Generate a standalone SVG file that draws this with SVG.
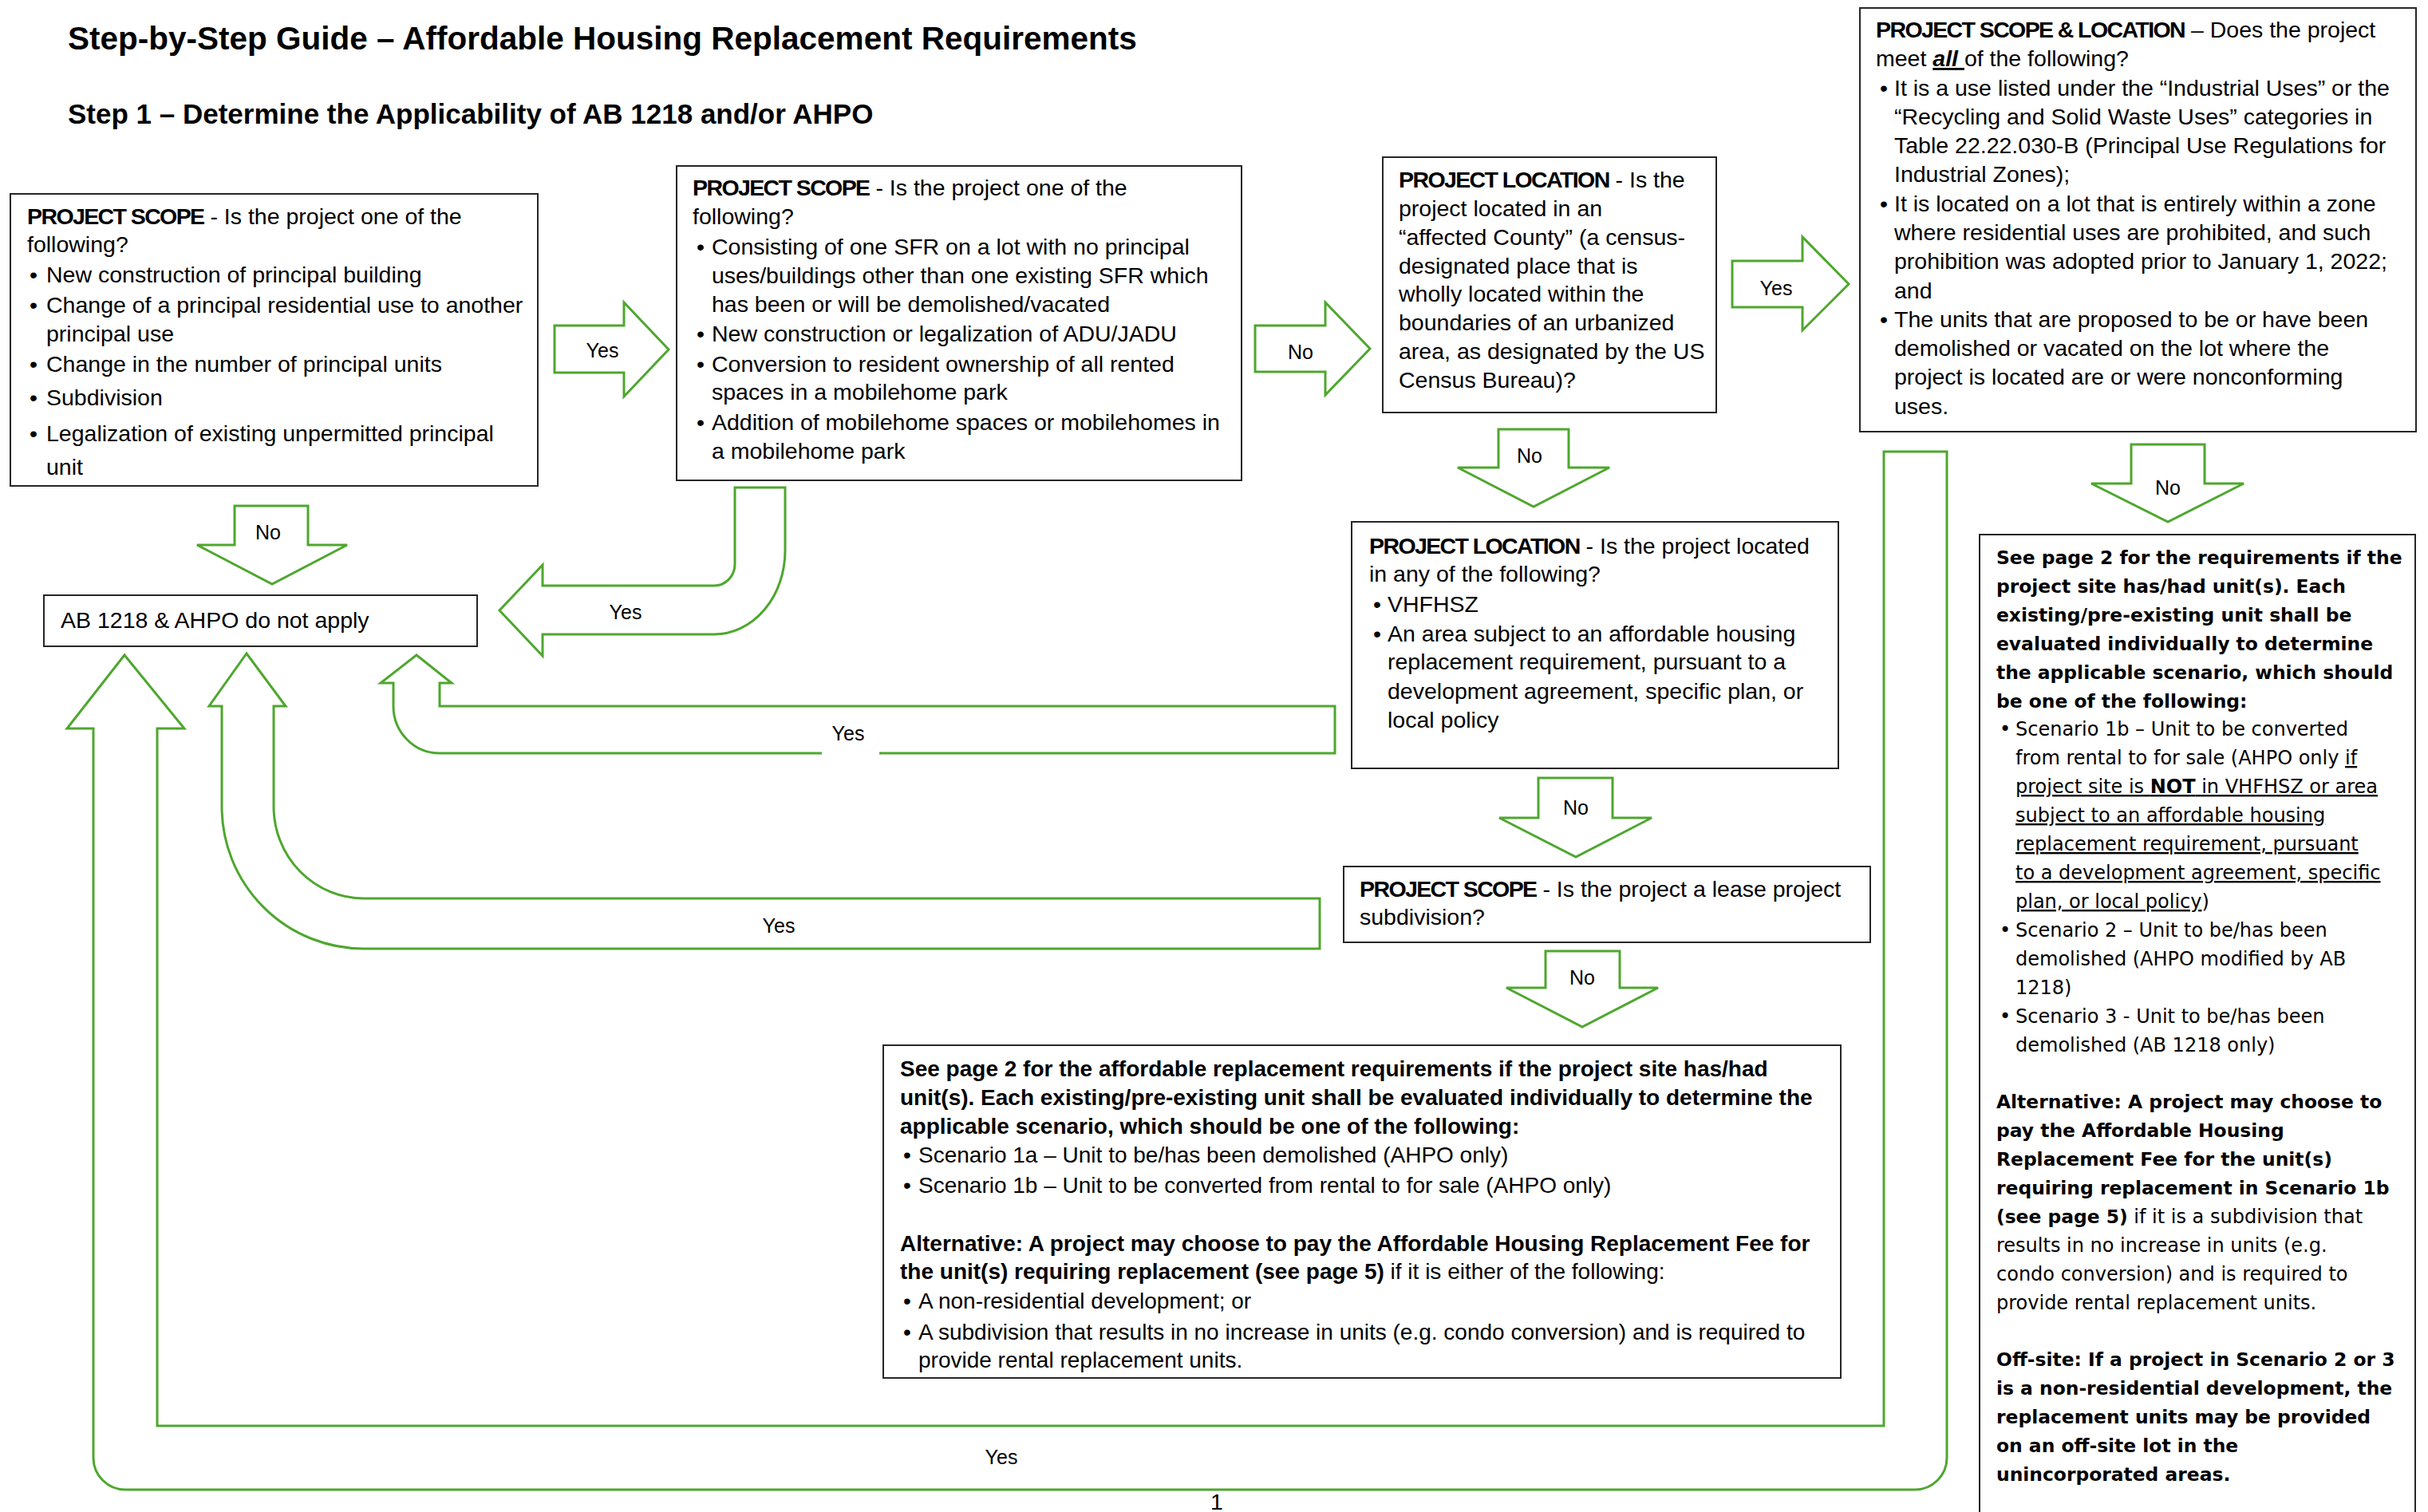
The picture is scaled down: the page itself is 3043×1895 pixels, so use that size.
<svg xmlns="http://www.w3.org/2000/svg" width="3043" height="1895" viewBox="0 0 3043 1895">
<style>
.box{fill:#fff;stroke:#262626;stroke-width:2}
.t{font-family:"Liberation Sans",Arial,sans-serif;font-size:28.5px;fill:#000}
.t7{font-family:"Liberation Sans",Arial,sans-serif;font-size:28px;fill:#000}
.b{font-weight:bold}
.cap{font-weight:bold;letter-spacing:-1.6px}
.w{font-family:"DejaVu Sans",Verdana,sans-serif;font-size:24px;fill:#000}
.wb{font-weight:bold;font-size:23.4px}
.u{text-decoration:underline}
.arrow{fill:#fff;stroke:#4EA72E;stroke-width:3;stroke-linejoin:miter}
.lbl{font-family:"Liberation Sans",Arial,sans-serif;font-size:25px;text-anchor:middle;fill:#000}
.h{font-family:"Liberation Sans",Arial,sans-serif;font-weight:bold;fill:#000}
</style>
<rect x="0" y="0" width="3043" height="1895" fill="#fff"/>
<g id="title">
<text class="h" x="85" y="62" font-size="40.5">Step-by-Step Guide – Affordable Housing Replacement Requirements</text>
<text class="h" x="85" y="155" font-size="35">Step 1 – Determine the Applicability of AB 1218 and/or AHPO</text>
</g>
<g id="connectors">
<polygon class="arrow" points="695,408 782,408 782,379 838,438 782,497 782,467 695,467"/>
<polygon class="arrow" points="1573,408 1661,408 1661,379 1717,437 1661,495 1661,466 1573,466"/>
<polygon class="arrow" points="2171,327 2259,327 2259,297 2317,356 2259,414 2259,385 2171,385"/>
<polygon class="arrow" points="294,634 386,634 386,683 435,683 341,732 247,683 294,683"/>
<polygon class="arrow" points="1878,538 1966,538 1966,586 2017,586 1922,635 1827,586 1878,586"/>
<polygon class="arrow" points="2671,557 2763,557 2763,606 2812,606 2717,654 2621,606 2671,606"/>
<polygon class="arrow" points="1928,975 2021,975 2021,1025 2070,1025 1975,1074 1879,1025 1928,1025"/>
<polygon class="arrow" points="1937,1192 2030,1192 2030,1238 2078,1238 1983,1287 1888,1238 1937,1238"/>
<path class="arrow" d="M921 611 L921 707 A26 27 0 0 1 895 734 L680 734 L680 708 L626 765 L680 822 L680 795 L895 795 A89 105 0 0 0 984 690 L984 611 Z"/>
<path class="arrow" d="M522 821 L566 856 L551 856 L551 885 L1673 885 L1673 944 L551 944 A58 59 0 0 1 493 885 L493 856 L477 856 Z"/>
<path class="arrow" d="M309 819 L358 885 L343 885 L343 1011 A113 115 0 0 0 456 1126 L1654 1126 L1654 1189 L456 1189 A178 178 0 0 1 278 1011 L278 885 L262 885 Z"/>
<path class="arrow" d="M156 821 L231 913 L197 913 L197 1787 L2361 1787 L2361 566 L2440 566 L2440 1827 A40 40 0 0 1 2400 1867 L157 1867 A40 40 0 0 1 117 1827 L117 913 L84 913 Z"/>
<rect x="1030" y="898" width="72" height="48" fill="#fff"/>
<text class="lbl" x="755" y="448">Yes</text>
<text class="lbl" x="1630" y="450">No</text>
<text class="lbl" x="2226" y="370">Yes</text>
<text class="lbl" x="336" y="676">No</text>
<text class="lbl" x="1917" y="580">No</text>
<text class="lbl" x="2717" y="620">No</text>
<text class="lbl" x="1975" y="1021">No</text>
<text class="lbl" x="1983" y="1234">No</text>
<text class="lbl" x="784" y="776">Yes</text>
<text class="lbl" x="1063" y="928">Yes</text>
<text class="lbl" x="976" y="1169">Yes</text>
<text class="lbl" x="1255" y="1835">Yes</text>
</g>
<g id="node-scope1">
<rect class="box" x="13" y="243" width="661" height="366"/>
<text class="t" x="34" y="281"><tspan class="cap">PROJECT SCOPE</tspan> - Is the project one of the</text>
<text class="t" x="34" y="316">following?</text>
<text class="t" x="37" y="354">•</text><text class="t" x="58" y="354">New construction of principal building</text>
<text class="t" x="37" y="392">•</text><text class="t" x="58" y="392">Change of a principal residential use to another</text>
<text class="t" x="58" y="428">principal use</text>
<text class="t" x="37" y="466">•</text><text class="t" x="58" y="466">Change in the number of principal units</text>
<text class="t" x="37" y="508">•</text><text class="t" x="58" y="508">Subdivision</text>
<text class="t" x="37" y="553">•</text><text class="t" x="58" y="553">Legalization of existing unpermitted principal</text>
<text class="t" x="58" y="595">unit</text>
</g>
<g id="node-scope2">
<rect class="box" x="848" y="208" width="708" height="394"/>
<text class="t" x="868" y="245"><tspan class="cap">PROJECT SCOPE</tspan> - Is the project one of the</text>
<text class="t" x="868" y="281">following?</text>
<text class="t" x="873" y="319">•</text><text class="t" x="892" y="319">Consisting of one SFR on a lot with no principal</text>
<text class="t" x="892" y="355">uses/buildings other than one existing SFR which</text>
<text class="t" x="892" y="391">has been or will be demolished/vacated</text>
<text class="t" x="873" y="428">•</text><text class="t" x="892" y="428">New construction or legalization of ADU/JADU</text>
<text class="t" x="873" y="466">•</text><text class="t" x="892" y="466">Conversion to resident ownership of all rented</text>
<text class="t" x="892" y="501">spaces in a mobilehome park</text>
<text class="t" x="873" y="539">•</text><text class="t" x="892" y="539">Addition of mobilehome spaces or mobilehomes in</text>
<text class="t" x="892" y="575">a mobilehome park</text>
</g>
<g id="node-location1">
<rect class="box" x="1733" y="197" width="418" height="320"/>
<text class="t" x="1753" y="235"><tspan class="cap">PROJECT LOCATION</tspan> - Is the</text>
<text class="t" x="1753" y="271">project located in an</text>
<text class="t" x="1753" y="307">“affected County” (a census-</text>
<text class="t" x="1753" y="343">designated place that is</text>
<text class="t" x="1753" y="378">wholly located within the</text>
<text class="t" x="1753" y="414">boundaries of an urbanized</text>
<text class="t" x="1753" y="450">area, as designated by the US</text>
<text class="t" x="1753" y="486">Census Bureau)?</text>
</g>
<g id="node-scope-location">
<rect class="box" x="2331" y="10" width="697" height="531"/>
<text class="t" x="2351" y="47"><tspan class="cap">PROJECT SCOPE &amp; LOCATION</tspan> – Does the project</text>
<text class="t" x="2351" y="83">meet <tspan class="b u" font-style="italic">all </tspan>of the following?</text>
<text class="t" x="2356" y="120">•</text><text class="t" x="2374" y="120">It is a use listed under the “Industrial Uses” or the</text>
<text class="t" x="2374" y="156">“Recycling and Solid Waste Uses” categories in</text>
<text class="t" x="2374" y="192">Table 22.22.030-B (Principal Use Regulations for</text>
<text class="t" x="2374" y="228">Industrial Zones);</text>
<text class="t" x="2356" y="265">•</text><text class="t" x="2374" y="265">It is located on a lot that is entirely within a zone</text>
<text class="t" x="2374" y="301">where residential uses are prohibited, and such</text>
<text class="t" x="2374" y="337">prohibition was adopted prior to January 1, 2022;</text>
<text class="t" x="2374" y="374">and</text>
<text class="t" x="2356" y="410">•</text><text class="t" x="2374" y="410">The units that are proposed to be or have been</text>
<text class="t" x="2374" y="446">demolished or vacated on the lot where the</text>
<text class="t" x="2374" y="482">project is located are or were nonconforming</text>
<text class="t" x="2374" y="519">uses.</text>
</g>
<g id="node-location2">
<rect class="box" x="1694" y="654" width="610" height="309"/>
<text class="t" x="1716" y="694"><tspan class="cap">PROJECT LOCATION</tspan> - Is the project located</text>
<text class="t" x="1716" y="729">in any of the following?</text>
<text class="t" x="1721" y="767">•</text><text class="t" x="1739" y="767">VHFHSZ</text>
<text class="t" x="1721" y="804">•</text><text class="t" x="1739" y="804">An area subject to an affordable housing</text>
<text class="t" x="1739" y="839">replacement requirement, pursuant to a</text>
<text class="t" x="1739" y="876">development agreement, specific plan, or</text>
<text class="t" x="1739" y="912">local policy</text>
</g>
<g id="node-lease">
<rect class="box" x="1684" y="1086" width="660" height="95"/>
<text class="t" x="1704" y="1124"><tspan class="cap">PROJECT SCOPE</tspan> - Is the project a lease project</text>
<text class="t" x="1704" y="1159">subdivision?</text>
</g>
<g id="node-scenario1">
<rect class="box" x="1107" y="1310" width="1200" height="417"/>
<text class="t7 b" x="1128" y="1349">See page 2 for the affordable replacement requirements if the project site has/had</text>
<text class="t7 b" x="1128" y="1385">unit(s). Each existing/pre-existing unit shall be evaluated individually to determine the</text>
<text class="t7 b" x="1128" y="1421">applicable scenario, which should be one of the following:</text>
<text class="t7" x="1132" y="1457">•</text><text class="t7" x="1151" y="1457">Scenario 1a – Unit to be/has been demolished (AHPO only)</text>
<text class="t7" x="1132" y="1495">•</text><text class="t7" x="1151" y="1495">Scenario 1b – Unit to be converted from rental to for sale (AHPO only)</text>
<text class="t7 b" x="1128" y="1568">Alternative: A project may choose to pay the Affordable Housing Replacement Fee for</text>
<text class="t7" x="1128" y="1603"><tspan class="b">the unit(s) requiring replacement (see page 5)</tspan> if it is either of the following:</text>
<text class="t7" x="1132" y="1640">•</text><text class="t7" x="1151" y="1640">A non-residential development; or</text>
<text class="t7" x="1132" y="1679">•</text><text class="t7" x="1151" y="1679">A subdivision that results in no increase in units (e.g. condo conversion) and is required to</text>
<text class="t7" x="1151" y="1714">provide rental replacement units.</text>
</g>
<g id="node-not-apply">
<rect class="box" x="55" y="746" width="543" height="64"/>
<text class="t" x="76" y="787" font-size="29.8">AB 1218 &amp; AHPO do not apply</text>
</g>
<g id="node-scenario2">
<rect class="box" x="2481" y="670" width="546" height="1240"/>
<text class="w wb" x="2502" y="707">See page 2 for the requirements if the</text>
<text class="w wb" x="2502" y="743">project site has/had unit(s). Each</text>
<text class="w wb" x="2502" y="779">existing/pre-existing unit shall be</text>
<text class="w wb" x="2502" y="815">evaluated individually to determine</text>
<text class="w wb" x="2502" y="851">the applicable scenario, which should</text>
<text class="w wb" x="2502" y="887">be one of the following:</text>
<text class="w" x="2506" y="922">•</text><text class="w" x="2526" y="922">Scenario 1b – Unit to be converted</text>
<text class="w" x="2526" y="958">from rental to for sale (AHPO only <tspan class="u">if</tspan></text>
<text class="w u" x="2526" y="994">project site is <tspan class="b">NOT</tspan> in VHFHSZ or area</text>
<text class="w u" x="2526" y="1030">subject to an affordable housing</text>
<text class="w u" x="2526" y="1066">replacement requirement, pursuant</text>
<text class="w u" x="2526" y="1102">to a development agreement, specific</text>
<text class="w" x="2526" y="1138"><tspan class="u">plan, or local policy</tspan>)</text>
<text class="w" x="2506" y="1174">•</text><text class="w" x="2526" y="1174">Scenario 2 – Unit to be/has been</text>
<text class="w" x="2526" y="1210">demolished (AHPO modified by AB</text>
<text class="w" x="2526" y="1246">1218)</text>
<text class="w" x="2506" y="1282">•</text><text class="w" x="2526" y="1282">Scenario 3 - Unit to be/has been</text>
<text class="w" x="2526" y="1318">demolished (AB 1218 only)</text>
<text class="w wb" x="2502" y="1389">Alternative: A project may choose to</text>
<text class="w wb" x="2502" y="1425">pay the Affordable Housing</text>
<text class="w wb" x="2502" y="1461">Replacement Fee for the unit(s)</text>
<text class="w wb" x="2502" y="1497">requiring replacement in Scenario 1b</text>
<text class="w" x="2502" y="1533"><tspan class="wb">(see page 5)</tspan> if it is a subdivision that</text>
<text class="w" x="2502" y="1569">results in no increase in units (e.g.</text>
<text class="w" x="2502" y="1605">condo conversion) and is required to</text>
<text class="w" x="2502" y="1641">provide rental replacement units.</text>
<text class="w wb" x="2502" y="1712">Off-site: If a project in Scenario 2 or 3</text>
<text class="w wb" x="2502" y="1748">is a non-residential development, the</text>
<text class="w wb" x="2502" y="1784">replacement units may be provided</text>
<text class="w wb" x="2502" y="1820">on an off-site lot in the</text>
<text class="w wb" x="2502" y="1856">unincorporated areas.</text>
</g>
<text class="t" x="1525" y="1892" font-size="24" text-anchor="middle">1</text>
</svg>
